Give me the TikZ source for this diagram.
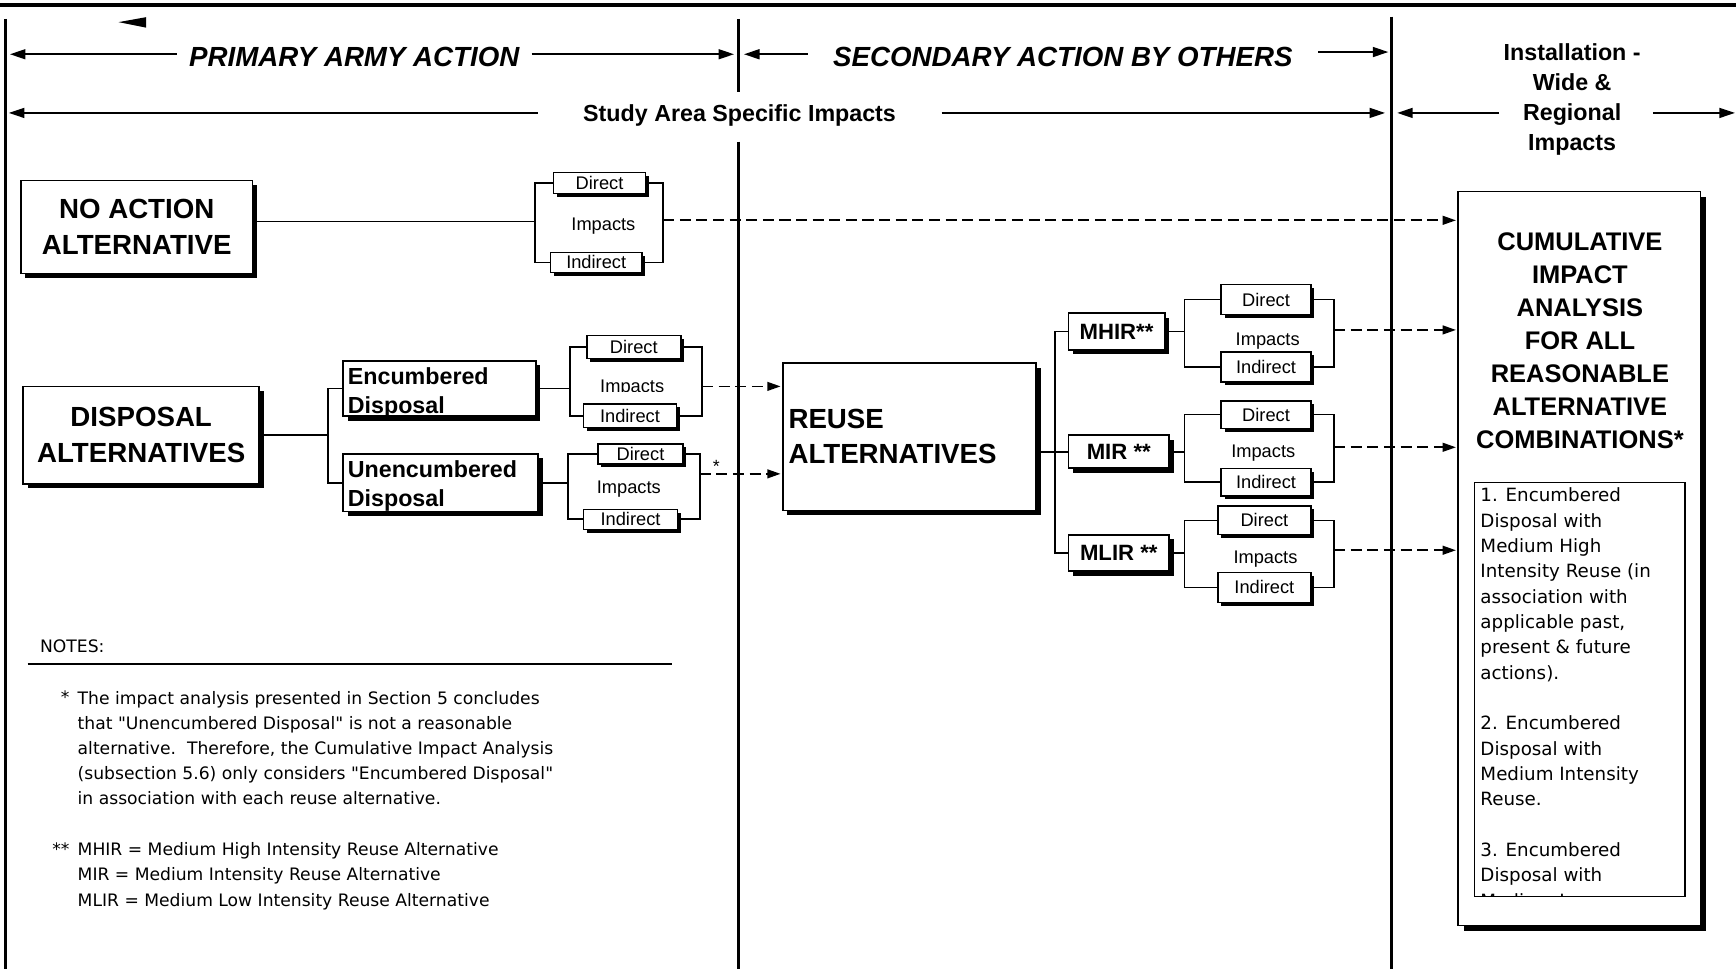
\documentclass[tikz,border=0pt]{standalone}
\usepackage{fontspec}
\setmainfont{Liberation Sans}
\newfontfamily\notefont{DejaVu Sans}
\usetikzlibrary{arrows.meta,shadows}
\begin{document}
\begin{tikzpicture}[x=1pt,y=-1pt,
  box/.style={draw,line width=1.5pt,fill=white,inner sep=0pt,outer sep=0pt,
    general shadow={fill=black,shadow xshift=#1,shadow yshift=-#1}},
  box/.default=4pt,
  smallbox/.style={box=3pt,line width=1.3pt,font=\fontsize{16.5}{20}\selectfont},
  wire/.style={line width=1.5pt},
  sepline/.style={line width=3pt},
  darr/.style={line width=1.5pt,dash pattern=on 10pt off 5pt,shorten >=2pt,-{Triangle[length=12pt,width=8pt]}},
  harr/.style={line width=1.4pt,-{Triangle[length=14pt,width=9pt]}},
  bigtxt/.style={font=\bfseries\fontsize{25}{32}\selectfont,align=center},
  midtxt/.style={font=\bfseries\fontsize{21}{27}\selectfont,align=left,inner sep=0pt},
  headtxt/.style={font=\bfseries\itshape\fontsize{25}{30}\selectfont,inner ysep=0pt},
  imptxt/.style={font=\fontsize{16.5}{20}\selectfont,inner sep=0pt},
  notetxt/.style={font=\notefont\fontsize{15.5}{22.75}\selectfont,align=left,inner sep=0pt},
  listtxt/.style={font=\notefont\fontsize{16.5}{22.88}\selectfont,align=left,inner sep=0pt},
]
\useasboundingbox (0,0) rectangle (1568,875);

% frame lines
\draw[line width=4pt] (0,4.5) -- (1568,4.5);
\draw[sepline] (5,17) -- (5,875);
\draw[sepline] (667,17) -- (667,83);
\draw[sepline] (667,128) -- (667,875);
\draw[sepline] (1257,15) -- (1257,875);
\fill (107,20) -- (132,15.5) -- (132,25) -- cycle;

% headers
\node[headtxt,inner xsep=11pt] (prim) at (320,51.5) {PRIMARY ARMY ACTION};
\coordinate (primL) at (9,49);
\coordinate (primR) at (663,49);
\draw[harr] (prim.west |- primL) -- (primL);
\draw[harr] (prim.east |- primR) -- (primR);

\node[headtxt,inner xsep=23pt] (sec) at (960,51.5) {SECONDARY ACTION BY OTHERS};
\coordinate (secL) at (672,49);
\coordinate (secR) at (1254,47);
\draw[harr] (sec.west |- secL) -- (secL);
\draw[harr] (sec.east |- secR) -- (secR);

\node[font=\bfseries\fontsize{21}{25}\selectfont,inner ysep=0pt,inner xsep=41pt] (study) at (668,104) {Study Area Specific Impacts};
\coordinate (stL) at (8,102);
\coordinate (stR) at (1251,102);
\draw[harr] (study.west |- stL) -- (stL);
\draw[harr] (study.east |- stR) -- (stR);

\node[font=\bfseries\fontsize{21}{27}\selectfont,align=center,inner sep=0pt,anchor=north] (inst) at (1420,39.5) {Installation -\\Wide \&\\Regional\\Impacts};
\coordinate (inA) at (1354,102);
\coordinate (inB) at (1262,102);
\coordinate (inC) at (1493,102);
\coordinate (inD) at (1567,102);
\draw[harr] (inA) -- (inB);
\draw[harr] (inC) -- (inD);

% main boxes
\node[box,bigtxt,minimum width=209pt,minimum height=84pt] (noact) at (123.5,205) {NO ACTION\\ALTERNATIVE};
\node[box,bigtxt,minimum width=213pt,minimum height=88pt] (disp) at (127.5,393) {DISPOSAL\\ALTERNATIVES};

\node[box,minimum width=174pt,minimum height=50pt] (enc) at (397,351) {};
\begin{scope}
  \clip (enc.south west) rectangle (enc.north east);
  \node[midtxt,anchor=north west] (enctxt) at (314,331.5) {Encumbered\\Disposal};
\end{scope}
\draw[line width=1.5pt] (enc.south west) rectangle (enc.north east);

\node[box,minimum width=176pt,minimum height=52pt] (unenc) at (398,436) {};
\begin{scope}
  \clip (unenc.south west) rectangle (unenc.north east);
  \node[midtxt,anchor=north west] (unenctxt) at (314,415.5) {Unencumbered\\Disposal};
\end{scope}
\draw[line width=1.5pt] (unenc.south west) rectangle (unenc.north east);

\node[box,minimum width=229pt,minimum height=133pt] (reuse) at (821.5,394.5) {};
\node[bigtxt,align=left,inner sep=0pt,anchor=north west] (reusetxt) at (712,369) {REUSE\\ALTERNATIVES};

\node[box,font=\bfseries\fontsize{20}{24}\selectfont,minimum width=87pt,minimum height=33pt] (mhir) at (1008.5,299.5) {MHIR**};
\node[box,font=\bfseries\fontsize{20}{24}\selectfont,minimum width=91pt,minimum height=30pt] (mir) at (1010.5,408) {MIR **};
\node[box,font=\bfseries\fontsize{20}{24}\selectfont,minimum width=91pt,minimum height=33pt] (mlir) at (1010.5,499.5) {MLIR **};

\node[box=5pt,minimum width=219pt,minimum height=663pt] (cum) at (1426.5,504.5) {};
\node[font=\bfseries\fontsize{23}{29.8}\selectfont,align=center,inner sep=0pt] (cumtxt) at (1427,307.5)
  {CUMULATIVE\\IMPACT\\ANALYSIS\\FOR ALL\\REASONABLE\\ALTERNATIVE\\COMBINATIONS*};
\node[draw,line width=1.2pt,fill=white,inner sep=0pt,outer sep=0pt,minimum width=190pt,minimum height=374pt] (list) at (1427,623) {};
\begin{scope}
  \clip (list.south west) rectangle (list.north east);
  \node[listtxt,anchor=north west] (listbody) at (1337,440.5)
  {1. Encumbered\\Disposal with\\Medium High\\Intensity Reuse (in\\association with\\applicable past,\\present \& future\\actions).\\[22.88pt]2. Encumbered\\Disposal with\\Medium Intensity\\Reuse.\\[22.88pt]3. Encumbered\\Disposal with\\Medium Low};
\end{scope}
\draw[line width=1.2pt] (list.south west) rectangle (list.north east);

% impact groups
\node[smallbox,minimum width=83pt,minimum height=19pt] (d1) at (541.5,165.5) {Direct};
\node[smallbox,minimum width=83pt,minimum height=18pt] (i1) at (538.5,237) {Indirect};
\node[imptxt] (imp1) at (545,204) {Impacts};
\coordinate (g1l) at (483,200);
\coordinate (g1r) at (599,199);

\node[smallbox,minimum width=85pt,minimum height=21pt] (d2) at (572.5,313.5) {Direct};
\node[smallbox,minimum width=84pt,minimum height=21pt] (i2) at (569,375.5) {Indirect};
\begin{scope}
  \clip (530,330) rectangle (615,354);
  \node[imptxt] (imp2) at (571,350.5) {Impacts};
\end{scope}
\coordinate (g2l) at (515,351);
\coordinate (g2r) at (634,349);

\node[smallbox,minimum width=77pt,minimum height=18pt] (d3) at (578.5,410) {Direct};
\node[smallbox,minimum width=85pt,minimum height=18pt] (i3) at (569.5,469) {Indirect};
\node[imptxt] (imp3) at (568,442) {Impacts};
\coordinate (g3l) at (513,436);
\coordinate (g3r) at (632,428);

\node[smallbox,minimum width=81pt,minimum height=27pt] (d4) at (1143.5,270.5) {Direct};
\node[smallbox,minimum width=81pt,minimum height=27pt] (i4) at (1143.5,331.5) {Indirect};
\node[imptxt] (imp4) at (1145,308) {Impacts};
\coordinate (g4l) at (1070,299.5);
\coordinate (g4r) at (1205,298);

\node[smallbox,minimum width=81pt,minimum height=25pt] (d5) at (1143.5,374.5) {Direct};
\node[smallbox,minimum width=81pt,minimum height=25pt] (i5) at (1143.5,435.5) {Indirect};
\node[imptxt] (imp5) at (1141,409) {Impacts};
\coordinate (g5l) at (1070,408);
\coordinate (g5r) at (1205,404);

\node[smallbox,minimum width=84pt,minimum height=26pt] (d6) at (1142,470) {Direct};
\node[smallbox,minimum width=84pt,minimum height=27pt] (i6) at (1142,530.5) {Indirect};
\node[imptxt] (imp6) at (1143,505) {Impacts};
\coordinate (g6l) at (1070,499.5);
\coordinate (g6r) at (1205,497);

\foreach \g in {1,...,6}{
  \draw[wire] (d\g.west) -- (d\g.west -| g\g l) -- (i\g.west -| g\g l) -- (i\g.west);
  \draw[wire] (d\g.east) -- (d\g.east -| g\g r) -- (i\g.east -| g\g r) -- (i\g.east);
}

% connectors
\draw[wire] (noact.east |- g1l) -- (g1l);
\coordinate (dj) at (296,393);
\draw[wire] (disp.east) -- (disp.east -| dj);
\draw[wire] (enc.west) -- (enc.west -| dj) -- (unenc.west -| dj) -- (unenc.west);
\draw[wire] (enc.east) -- (g2l);
\draw[wire] (unenc.east) -- (g3l);
\coordinate (rj) at (953,408);
\draw[wire] (mir.west -| reuse.east) -- (mir.west);
\draw[wire] (mhir.west) -- (mhir.west -| rj) -- (mlir.west -| rj) -- (mlir.west);
\draw[wire] (mhir.east) -- (g4l);
\draw[wire] (mir.east) -- (g5l);
\draw[wire] (mlir.east) -- (g6l);

\draw[darr] (g1r) -- (g1r -| cum.west);
\draw[darr] (g2r) -- (g2r -| reuse.west);
\draw[darr] (g3r) -- (g3r -| reuse.west);
\node[font=\fontsize{16}{20}\selectfont,inner sep=0pt] (star) at (647,421) {*};
\draw[darr] (g4r) -- (g4r -| cum.west);
\draw[darr] (g5r) -- (g5r -| cum.west);
\draw[darr] (g6r) -- (g6r -| cum.west);

% notes
\node[notetxt,anchor=west] (notes) at (36,584) {NOTES:};
\draw[wire] (25,600) -- (607,600);
\node[notetxt,anchor=base east] (st1) at (63,635.7) {*};
\node[notetxt,anchor=north west] (note1) at (70,624)
  {The impact analysis presented in Section 5 concludes\\that "Unencumbered Disposal" is not a reasonable\\alternative.\ \ Therefore, the Cumulative Impact Analysis\\(subsection 5.6) only considers "Encumbered Disposal"\\in association with each reuse alternative.};
\node[notetxt,anchor=base east] (st2) at (63,772.7) {**};
\node[notetxt,anchor=north west] (note2) at (70,761)
  {MHIR = Medium High Intensity Reuse Alternative\\MIR = Medium Intensity Reuse Alternative\\MLIR = Medium Low Intensity Reuse Alternative};
\end{tikzpicture}
\end{document}
